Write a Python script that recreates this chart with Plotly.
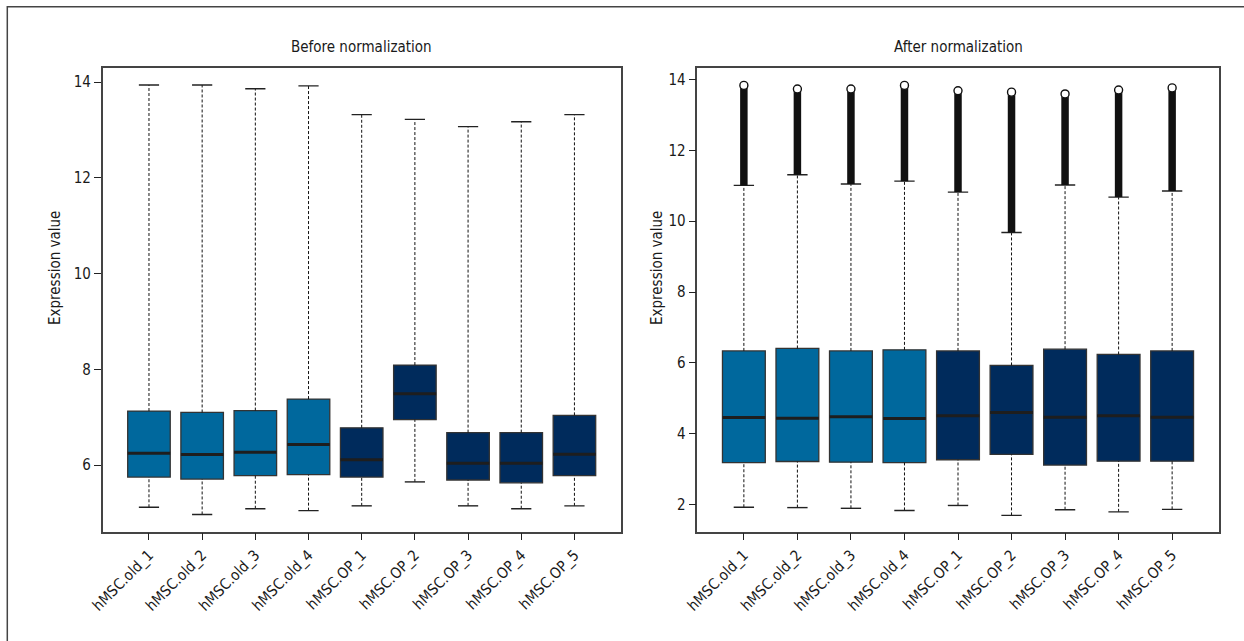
import plotly.graph_objects as go

# ---------------- data ----------------
labels = ["hMSC.old_1", "hMSC.old_2", "hMSC.old_3", "hMSC.old_4",
          "hMSC.OP_1", "hMSC.OP_2", "hMSC.OP_3", "hMSC.OP_4", "hMSC.OP_5"]
groups = ["old", "old", "old", "old", "OP", "OP", "OP", "OP", "OP"]

before_q1 = [5.75, 5.71, 5.78, 5.80, 5.75, 6.95, 5.69, 5.63, 5.78]
before_med = [6.25, 6.22, 6.27, 6.43, 6.11, 7.49, 6.04, 6.04, 6.23]
before_q3 = [7.13, 7.10, 7.14, 7.38, 6.78, 8.09, 6.68, 6.68, 7.04]
before_lo = [5.12, 4.97, 5.09, 5.05, 5.15, 5.65, 5.15, 5.09, 5.15]
before_hi = [13.94, 13.94, 13.86, 13.92, 13.32, 13.22, 13.07, 13.17, 13.32]

after_q1 = [3.19, 3.22, 3.20, 3.19, 3.27, 3.42, 3.12, 3.23, 3.23]
after_med = [4.46, 4.44, 4.48, 4.43, 4.51, 4.60, 4.47, 4.51, 4.47]
after_q3 = [6.34, 6.41, 6.34, 6.37, 6.34, 5.93, 6.39, 6.24, 6.34]
after_lo = [1.93, 1.92, 1.90, 1.84, 1.98, 1.70, 1.86, 1.80, 1.87]
after_hi = [11.01, 11.31, 11.05, 11.13, 10.82, 9.68, 11.02, 10.68, 10.85]
after_out_max = [13.83, 13.73, 13.73, 13.83, 13.68, 13.64, 13.59, 13.70, 13.76]

before_ticks = [6, 8, 10, 12, 14]
after_ticks = [2, 4, 6, 8, 10, 12, 14]

# ---------------- style ----------------
W, H = 1244, 641
FONT = "Liberation Sans Narrow, DejaVu Sans Condensed, Arial Narrow, Roboto, sans-serif"
COL = {"old": "#00689D", "OP": "#002B5C"}
BOX_W = 0.8
CAP_HALF = 0.19
pos = list(range(len(labels)))

fig = go.Figure()


def add_panel(xa, ya, q1, med, q3, lo, hi, out_max=None):
    xref = "x" if xa == 1 else "x2"
    yref = "y" if ya == 1 else "y2"
    # whiskers (dotted)
    wx, wy = [], []
    for i in pos:
        wx += [i, i, None, i, i, None]
        wy += [q3[i], hi[i], None, lo[i], q1[i], None]
    fig.add_trace(go.Scatter(x=wx, y=wy, mode="lines", xaxis=xref, yaxis=yref,
                             line=dict(color="#111", width=1, dash="3px,2px"),
                             hoverinfo="skip", showlegend=False))
    # caps
    cx, cy = [], []
    for i in pos:
        cx += [i - CAP_HALF, i + CAP_HALF, None, i - CAP_HALF, i + CAP_HALF, None]
        cy += [hi[i], hi[i], None, lo[i], lo[i], None]
    fig.add_trace(go.Scatter(x=cx, y=cy, mode="lines", xaxis=xref, yaxis=yref,
                             line=dict(color="#222", width=1.4),
                             hoverinfo="skip", showlegend=False))
    # boxes
    for g in ["old", "OP"]:
        idx = [i for i in pos if groups[i] == g]
        fig.add_trace(go.Box(
            x=idx, q1=[q1[i] for i in idx], median=[med[i] for i in idx],
            q3=[q3[i] for i in idx], lowerfence=[q1[i] for i in idx],
            upperfence=[q3[i] for i in idx], width=BOX_W,
            fillcolor=COL[g], line=dict(color="#333", width=1.3),
            boxpoints=False, xaxis=xref, yaxis=yref, showlegend=False,
            hoverinfo="skip"))
    # medians (thick)
    mx, my = [], []
    for i in pos:
        mx += [i - BOX_W / 2, i + BOX_W / 2, None]
        my += [med[i], med[i], None]
    fig.add_trace(go.Scatter(x=mx, y=my, mode="lines", xaxis=xref, yaxis=yref,
                             line=dict(color="#1e1e1e", width=3),
                             hoverinfo="skip", showlegend=False))
    # outliers (dense column + top circle)
    if out_max is not None:
        ox, oy = [], []
        for i in pos:
            ox += [i, i, None]
            oy += [hi[i], out_max[i] - 0.05, None]
        fig.add_trace(go.Scatter(x=ox, y=oy, mode="lines", xaxis=xref, yaxis=yref,
                                 line=dict(color="#111", width=7.5),
                                 hoverinfo="skip", showlegend=False))
        fig.add_trace(go.Scatter(x=pos, y=out_max, mode="markers", xaxis=xref, yaxis=yref,
                                 marker=dict(symbol="circle", size=8, color="white",
                                             line=dict(color="#111", width=1.4)),
                                 hoverinfo="skip", showlegend=False))


add_panel(1, 1, before_q1, before_med, before_q3, before_lo, before_hi)
add_panel(2, 2, after_q1, after_med, after_q3, after_lo, after_hi, after_out_max)

ydom = [(H - 531.7) / H, (H - 67.7) / H]
axis_common = dict(showline=True, mirror=True, linecolor="#444", linewidth=1.5,
                   showgrid=False, zeroline=False, ticks="outside", ticklen=7,
                   tickwidth=1.2, tickcolor="#222",
                   tickfont=dict(family=FONT, size=15, color="#1a1a1a"))
xcommon = dict(axis_common, tickvals=pos, ticktext=labels, tickangle=-45,
               range=[-0.87, len(labels) - 1 + 0.87])

fig.update_layout(
    width=W, height=H, margin=dict(l=0, r=0, t=0, b=0, autoexpand=False),
    paper_bgcolor="white", plot_bgcolor="white", showlegend=False,
    font=dict(family=FONT, color="#1a1a1a"),
    xaxis=dict(xcommon, domain=[102.7 / W, 620.7 / W], anchor="y"),
    yaxis=dict(axis_common, domain=ydom, anchor="x", range=[4.61, 14.30],
               tickvals=before_ticks),
    xaxis2=dict(xcommon, domain=[697.3 / W, 1218.7 / W], anchor="y2"),
    yaxis2=dict(axis_common, domain=ydom, anchor="x2", range=[1.24, 14.33],
                tickvals=after_ticks),
)

ann_font = dict(family=FONT, size=15, color="#1a1a1a")
fig.add_annotation(text="Before normalization", x=361.7 / W, y=1 - 47 / H, xref="paper",
                   yref="paper", showarrow=False, font=ann_font, xanchor="center", yanchor="middle")
fig.add_annotation(text="After normalization", x=958 / W, y=1 - 47 / H, xref="paper",
                   yref="paper", showarrow=False, font=ann_font, xanchor="center", yanchor="middle")
fig.add_annotation(text="Expression value", x=55 / W, y=1 - 268 / H, xref="paper",
                   yref="paper", showarrow=False, font=ann_font, textangle=-90,
                   xanchor="center", yanchor="middle")
fig.add_annotation(text="Expression value", x=657 / W, y=1 - 268 / H, xref="paper",
                   yref="paper", showarrow=False, font=ann_font, textangle=-90,
                   xanchor="center", yanchor="middle")

# outer frame (left and top edges visible)
fig.add_shape(type="path", xref="paper", yref="paper",
              path=f"M {7.3 / W},-0.1 L {7.3 / W},{1 - 6.7 / H} L 1.1,{1 - 6.7 / H}",
              line=dict(color="#444", width=1.5))

fig.write_html("out.html", config={"displayModeBar": False},
               post_script="document.body.style.margin='0';")
